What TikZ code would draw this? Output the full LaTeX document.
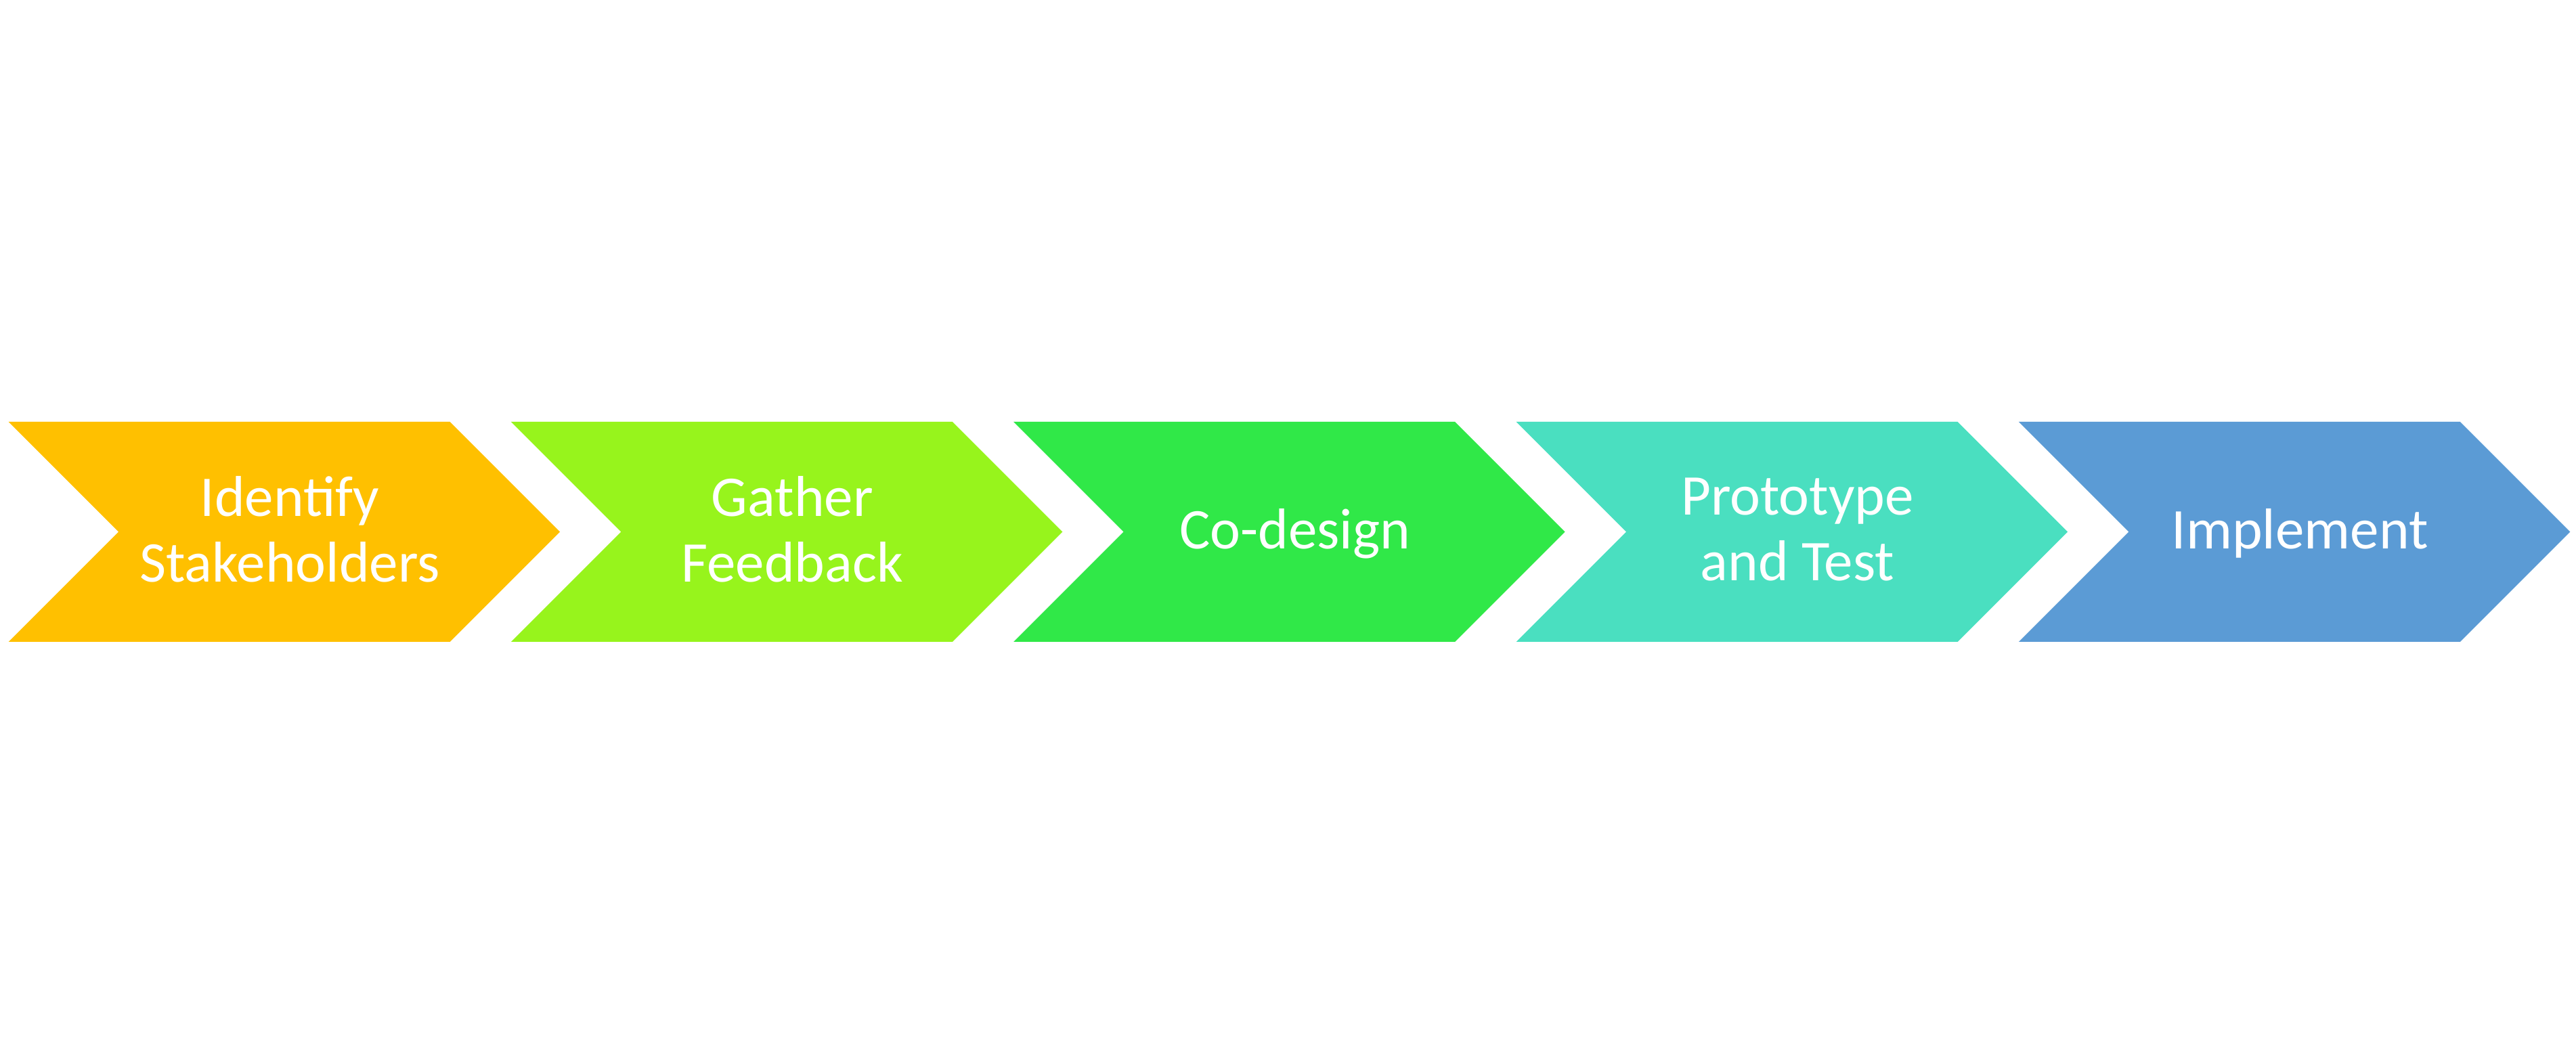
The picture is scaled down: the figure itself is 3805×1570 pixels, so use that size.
\documentclass[tikz,border=0pt]{standalone}
\usepackage{fontspec}
\setmainfont{Carlito}
\definecolor{cGold}{HTML}{FFC000}
\definecolor{cLime}{HTML}{97F41C}
\definecolor{cGreen}{HTML}{30E848}
\definecolor{cTeal}{HTML}{4ADFC0}
\definecolor{cBlue}{HTML}{5B9BD5}
\tikzset{
  chev/.style={draw=none},
  chevlabel/.style={text=white, align=center, inner sep=0pt,
    font=\fontsize{24.2pt}{27.6pt}\selectfont}
}
% chevron: left x, fill colour
\newcommand{\chevshape}[2]{%
  \fill[#2] (#1,947) -- ++(652,0) -- ++(162.5,-162.5) -- ++(-162.5,-162.5)
    -- ++(-652,0) -- ++(162.5,162.5) -- cycle;}
\begin{document}
\begin{tikzpicture}[x=0.01cm,y=0.01cm]
\useasboundingbox (0,0) rectangle (3805,1570);
\chevshape{12.6}{cGold}
\chevshape{754.9}{cLime}
\chevshape{1497.2}{cGreen}
\chevshape{2239.5}{cTeal}
\chevshape{2981.8}{cBlue}
\node[chevlabel] (s1) at (428,788) {Identify\\Stakeholders};
\node[chevlabel] (s2) at (1170.3,788) {Gather\\Feedback};
\node[chevlabel] (s3) at (1912.6,782) {Co-design};
\node[chevlabel] (s4) at (2654.9,788) {Prototype\\and Test};
\node[chevlabel] (s5) at (3397.2,782) {Implement};
\end{tikzpicture}
\end{document}
